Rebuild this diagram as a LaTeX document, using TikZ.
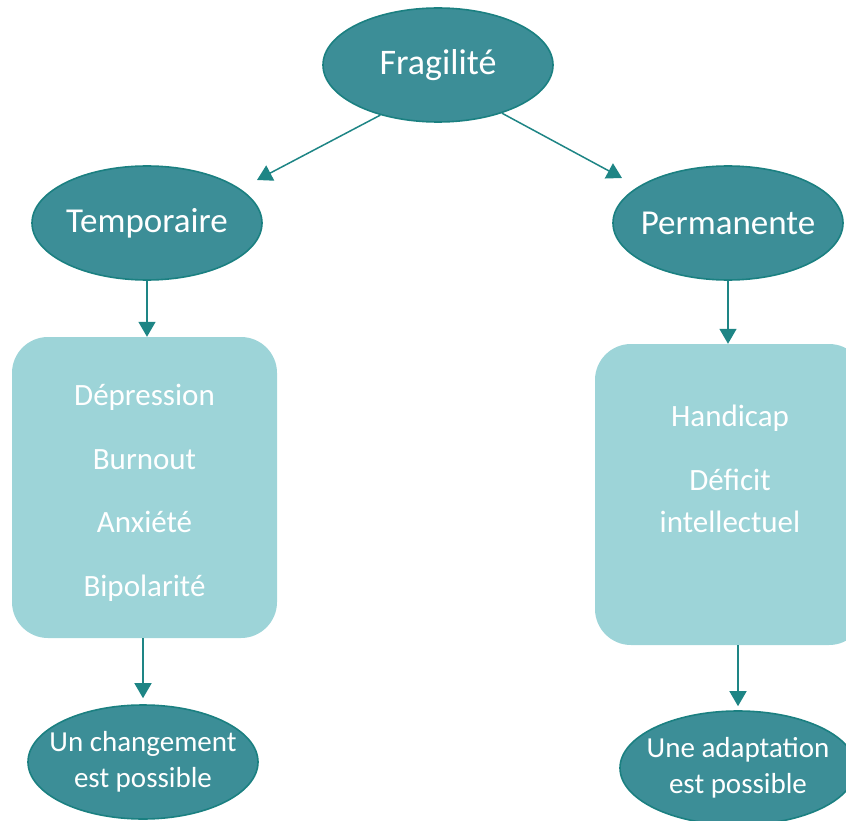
\documentclass[tikz,border=0pt]{standalone}
\usepackage{fontspec}
\setmainfont{Carlito}
\usepackage{tikz}
\usetikzlibrary{arrows.meta,positioning,shapes.geometric}
\definecolor{tealfill}{RGB}{60,142,151}
\definecolor{tealedge}{RGB}{27,128,129}
\definecolor{tealarrow}{RGB}{30,133,133}
\definecolor{paleteal}{RGB}{157,212,216}

\begin{document}
\begin{tikzpicture}[x=1pt,y=-1pt,
  oval/.style={ellipse,fill=tealfill,draw=tealedge,line width=1.6pt,
               text=white,inner xsep=-40pt,inner ysep=0pt,align=center,
               minimum width=230pt,minimum height=114pt},
  bigfont/.style={font=\fontsize{35}{40}\selectfont},
  smallfont/.style={font=\fontsize{29}{36}\selectfont},
  listbox/.style={rectangle,rounded corners=36pt,fill=paleteal,text=white,
                  align=center,font=\fontsize{31}{42}\selectfont,
                  minimum width=265pt,minimum height=301pt},
  link/.style={-{Triangle[width=17pt,length=15pt]},tealarrow,line width=1.5pt}]
\clip (0,0) rectangle (846,821);
\node[oval,font=\fontsize{36}{40}\selectfont] (frag) at (438,65) {Fragilité};
\node[oval,bigfont] (temp) at (147,223) {Temporaire};
\node[oval,bigfont] (perm) at (728,223) {Permanente};
\node[listbox] (boxL) at (144.5,487.5)
  {\mbox{}\\[-10pt]Dépression\\[21.5pt]Burnout\\[21.5pt]Anxiété\\[21.5pt]Bipolarité};
\node[listbox,minimum width=270pt] (boxR) at (730,494.5)
  {Handicap\\[22pt]Déficit\\intellectuel\\[10pt]\mbox{}};
\node[oval,smallfont] (endL) at (143,762) {Un changement\\est possible};
\node[oval,smallfont,minimum width=236pt] (endR) at (738,768) {Une adaptation\\est possible};
\coordinate (tipL) at (257,180);
\coordinate (tipR) at (622,178);
\draw[link] (frag.221) -- (tipL);
\draw[link] (frag.323) -- (tipR);
\draw[link] (temp.south) -- (temp.south |- boxL.north);
\draw[link] (perm.south) -- (perm.south |- boxR.north);
\draw[link,shorten >=6pt] (boxL.south -| endL) -- (endL.north);
\draw[link,shorten >=4pt] (boxR.south -| endR) -- (endR.north);
\end{tikzpicture}
\end{document}
